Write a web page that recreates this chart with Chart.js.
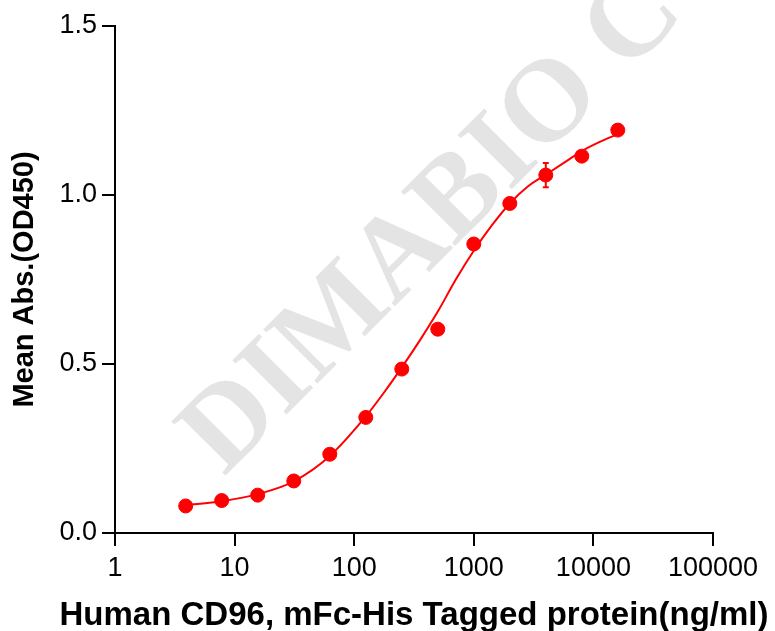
<!DOCTYPE html>
<html>
<head>
<meta charset="utf-8">
<script src="https://cdn.jsdelivr.net/npm/chart.js@4"></script>
<style>
  html, body { margin: 0; padding: 0; background: #fff; }
  #wrap { width: 775px; height: 631px; }
</style>
</head>
<body>
<div id="wrap"><canvas id="chart" width="775" height="631"></canvas></div>
<script>
// ── DATA ─────────────────────────────────────────────────────
const conc_ngml   = [3.9, 7.8, 15.6, 31.25, 62.5, 125, 250, 500, 1000, 2000, 4000, 8000, 16000];
const mean_od450  = [0.080, 0.096, 0.112, 0.154, 0.233, 0.342, 0.485, 0.603, 0.855, 0.975, 1.059, 1.115, 1.192];
const sd_od450    = [0.004, 0.004, 0.004, 0.005, 0.006, 0.008, 0.008, 0.008, 0.010, 0.010, 0.036, 0.010, 0.008];

// fitted curve
const fit_x = [3.9, 7.8, 15.6, 31.25, 62.5, 125, 177, 250, 354, 500, 707, 1000, 1414, 2000, 2828, 4000, 5657, 8000, 11314, 16000];
const fit_y = [0.082, 0.094, 0.115, 0.153, 0.228, 0.345, 0.415, 0.490, 0.570, 0.655, 0.750, 0.835, 0.910, 0.975, 1.025, 1.060, 1.095, 1.130, 1.157, 1.180];

const xTicks = [1, 10, 100, 1000, 10000, 100000];
const yTicks = [0, 0.5, 1.0, 1.5];

const X_TITLE   = 'Human CD96, mFc-His Tagged protein(ng/ml)';
const Y_TITLE   = 'Mean Abs.(OD450)';
const WATERMARK = 'DIMABIO CO';

// ── DESIGN TOKENS ────────────────────────────────────────────
const PALETTE = {
  red:   '#ff0000',
  ink:   '#000000',
  mark:  '#e4e4e4',
};
const SANS = "'Liberation Sans', Arial, sans-serif";

// watermark sits behind the data
const watermarkPlugin = {
  id: 'watermark',
  beforeDatasetsDraw(chart) {
    const ctx = chart.ctx;
    ctx.save();
    ctx.translate(224, 477);
    ctx.rotate(-45 * Math.PI / 180);
    ctx.fillStyle = PALETTE.mark;
    ctx.font = "bold 117px 'Liberation Serif', 'Times New Roman', serif";
    ctx.textAlign = 'left';
    ctx.textBaseline = 'alphabetic';
    ctx.fillText(WATERMARK, 0, 0);
    ctx.restore();
  },
};

// vertical SD bars with small caps
const errorBarPlugin = {
  id: 'errorBars',
  afterDatasetsDraw(chart) {
    const ctx = chart.ctx;
    const xs = chart.scales.x, ys = chart.scales.y;
    ctx.save();
    ctx.strokeStyle = PALETTE.red;
    ctx.lineWidth = 2;
    conc_ngml.forEach((c, i) => {
      const px = xs.getPixelForValue(c);
      const top = ys.getPixelForValue(mean_od450[i] + sd_od450[i]);
      const bot = ys.getPixelForValue(mean_od450[i] - sd_od450[i]);
      ctx.beginPath();
      ctx.moveTo(px, top); ctx.lineTo(px, bot);
      ctx.moveTo(px - 3, top); ctx.lineTo(px + 3, top);
      ctx.moveTo(px - 3, bot); ctx.lineTo(px + 3, bot);
      ctx.stroke();
    });
    ctx.restore();
  },
};

// x title is wider than the axis, so Chart.js would squeeze it — draw it here
const xTitlePlugin = {
  id: 'xTitle',
  afterDraw(chart) {
    const ctx = chart.ctx;
    const a = chart.chartArea;
    ctx.save();
    ctx.fillStyle = PALETTE.ink;
    ctx.font = 'bold 33px ' + SANS;
    ctx.textAlign = 'center';
    ctx.textBaseline = 'alphabetic';
    ctx.fillText(X_TITLE, (a.left + a.right) / 2, 625);
    ctx.restore();
  },
};

// ── CHART ────────────────────────────────────────────────────
new Chart(document.getElementById('chart'), {
  type: 'scatter',
  data: {
    datasets: [
      {
        label: 'fit',
        data: fit_x.map((x, i) => ({ x, y: fit_y[i] })),
        showLine: true,
        borderColor: PALETTE.red,
        borderWidth: 2,
        pointRadius: 0,
        cubicInterpolationMode: 'monotone',
        order: 2,
      },
      {
        label: 'mean',
        data: conc_ngml.map((x, i) => ({ x, y: mean_od450[i] })),
        showLine: false,
        backgroundColor: PALETTE.red,
        borderColor: PALETTE.red,
        borderWidth: 1,
        pointRadius: 7,
        order: 1,
      },
    ],
  },
  options: {
    responsive: false,
    animation: false,
    devicePixelRatio: 1,
    layout: { padding: { left: 0, right: 62, top: 26, bottom: 0 } },
    plugins: {
      legend:  { display: false },
      tooltip: { enabled: false },
    },
    scales: {
      x: {
        type: 'logarithmic',
        min: 1,
        max: 100000,
        afterBuildTicks: axis => { axis.ticks = xTicks.map(v => ({ value: v })); },
        afterFit: axis => { axis.height = 98; },
        ticks: {
          color: PALETTE.ink,
          font: { family: SANS, size: 27 },
          padding: 6,
          maxRotation: 0,
          autoSkip: false,
          callback: v => String(v),
        },
        grid: {
          drawOnChartArea: false,
          color: PALETTE.ink,
          lineWidth: 2,
          tickLength: 13,
        },
        border: { color: PALETTE.ink, width: 2 },
        title: { display: false },
      },
      y: {
        min: 0,
        max: 1.5,
        afterBuildTicks: axis => { axis.ticks = yTicks.map(v => ({ value: v })); },
        afterFit: axis => { axis.width = 115; },
        ticks: {
          color: PALETTE.ink,
          font: { family: SANS, size: 27 },
          padding: 5,
          callback: v => Number(v).toFixed(1),
        },
        grid: {
          drawOnChartArea: false,
          color: PALETTE.ink,
          lineWidth: 2,
          tickLength: 13,
        },
        border: { color: PALETTE.ink, width: 2 },
        title: {
          display: true,
          text: Y_TITLE,
          color: PALETTE.ink,
          font: { family: SANS, size: 29, weight: 'bold', lineHeight: 1.2 },
          padding: { top: 8, bottom: 0 },
        },
      },
    },
  },
  plugins: [watermarkPlugin, errorBarPlugin, xTitlePlugin],
});
</script>
</body>
</html>
